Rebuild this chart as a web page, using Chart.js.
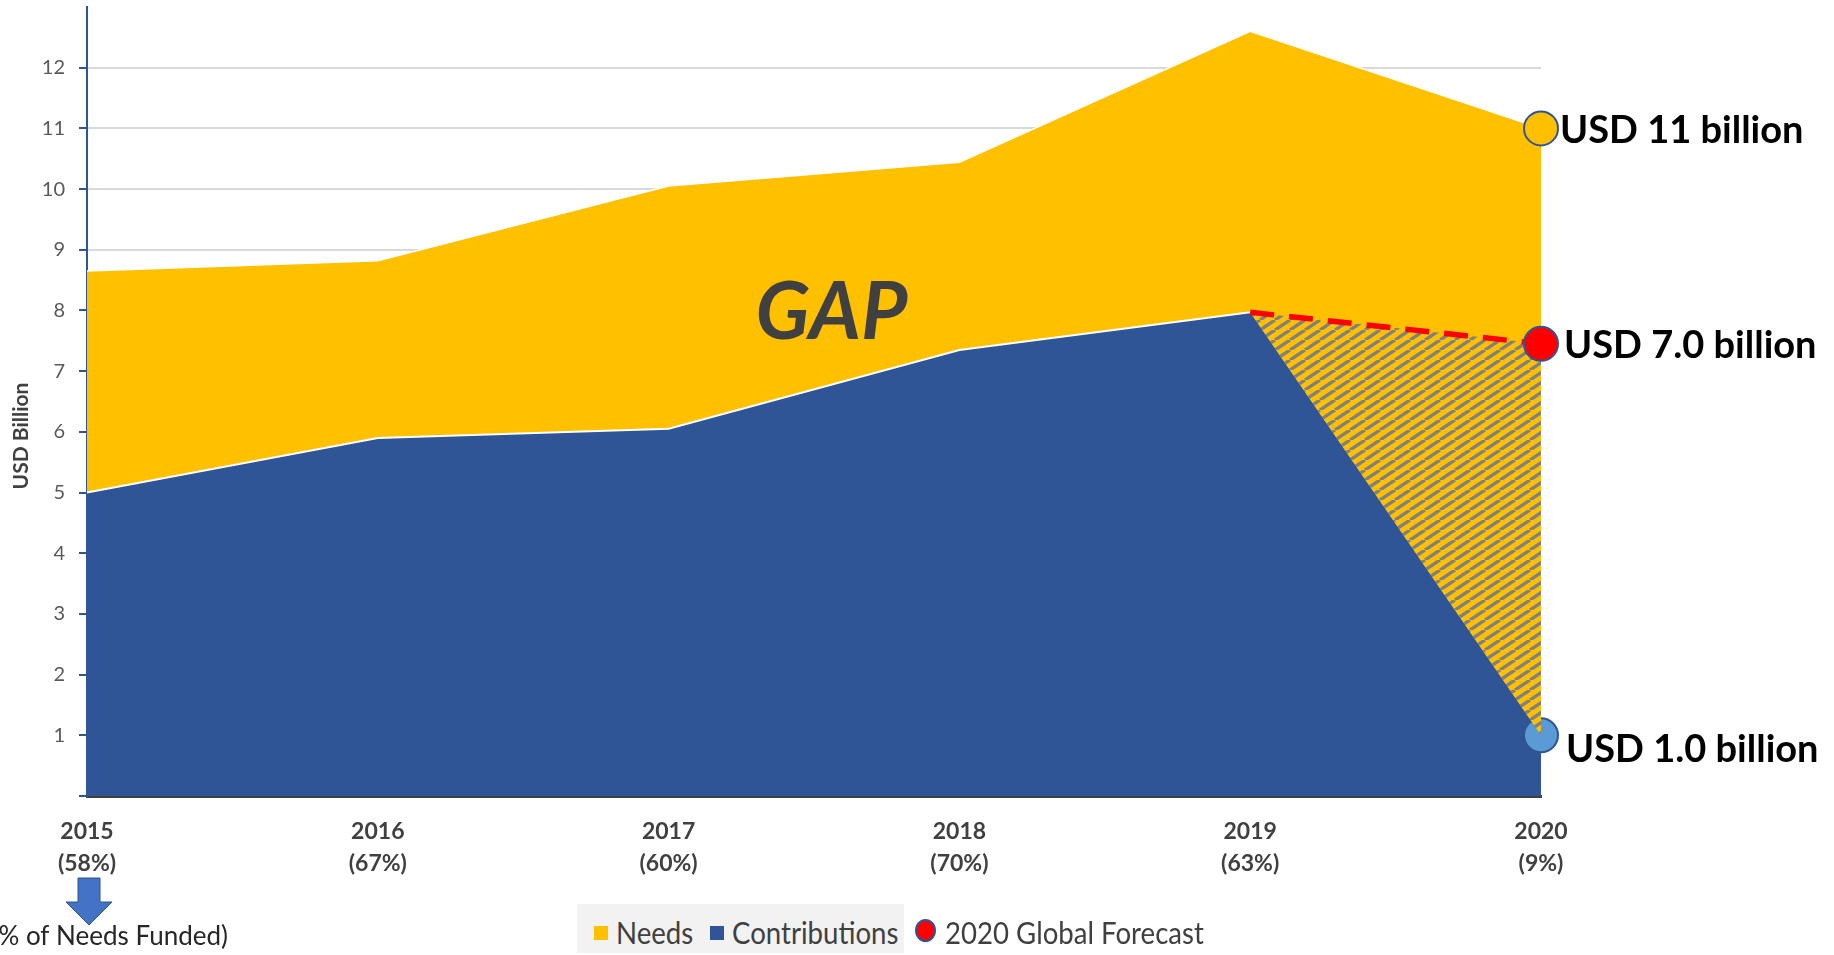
<!DOCTYPE html>
<html>
<head>
<meta charset="utf-8">
<script src="https://cdn.jsdelivr.net/npm/chart.js@4.4.1/dist/chart.umd.min.js"></script>
<style>
  html, body { margin: 0; padding: 0; background: #fff; }
  #wrap { position: relative; width: 1834px; height: 955px; }
  #legendBox { position: absolute; left: 577px; top: 904px; width: 327px; height: 49px; background: #F2F2F2; }
  .lg { position: absolute; font-family: Lato, sans-serif; font-size: 30px; color: #404040;
        transform: scaleX(0.92); transform-origin: left center; white-space: nowrap; line-height: 34px; top: 915px; }
  .sq { position: absolute; width: 14px; height: 14px; top: 926px; }
  .dot { position: absolute; width: 17px; height: 19px; border-radius: 50%; background: #FF0000;
         border: 2px solid #2F5597; top: 919px; }
</style>
</head>
<body>
<div id="wrap">
  <canvas id="chart" width="1834" height="955"></canvas>
  <div id="legendBox"></div>
  <div class="sq" style="left:594px;background:#FFC000"></div>
  <div class="lg" style="left:616px">Needs</div>
  <div class="sq" style="left:710px;background:#2F5597"></div>
  <div class="lg" style="left:732px">Contributions</div>
  <div class="dot" style="left:915px"></div>
  <div class="lg" style="left:945px">2020 Global Forecast</div>
</div>
<script>
const years = ['2015', '2016', '2017', '2018', '2019', '2020'];
const fundedPct = ['(58%)', '(67%)', '(60%)', '(70%)', '(63%)', '(9%)'];
const needs = [8.65, 8.82, 10.05, 10.44, 12.6, 11.0];
const contributions = [5.0, 5.9, 6.05, 7.35, 7.97, 1.0];
const forecast = [null, null, null, null, 7.97, 7.45];
const endLabels = ['USD 11 billion', 'USD 7.0 billion', 'USD 1.0 billion'];

const last = years.length - 1;

// stripes for the forecast gap
function makeHatch() {
    const w = 15, h = 10;
    const c = document.createElement('canvas');
    c.width = w; c.height = h;
    const g = c.getContext('2d');
    g.fillStyle = '#FFC000';
    g.fillRect(0, 0, w, h);
    g.strokeStyle = '#808080';
    g.lineWidth = 3.4;
    g.beginPath();
    for (const dx of [-w, 0, w]) {
        g.moveTo(dx, h); g.lineTo(dx + w, 0);
    }
    g.stroke();
    return g.createPattern(c, 'repeat');
}

const lastOnly = r => years.map((y, i) => i === last ? r : 0);

const extras = {
    id: 'extras',
    afterDraw(chart) {
        const ctx = chart.ctx;
        const x = chart.scales.x, y = chart.scales.y;
        ctx.save();

        ctx.fillStyle = '#404040';
        ctx.font = 'italic bold 80px Lato';
        ctx.textAlign = 'center';
        ctx.textBaseline = 'middle';
        ctx.fillText('GAP', x.getPixelForValue(2.56), y.getPixelForValue(7.95));

        ctx.fillStyle = '#000';
        ctx.font = 'bold 38px Lato';
        ctx.textAlign = 'left';
        const lx = x.getPixelForValue(last) + 19;
        ctx.fillText(endLabels[0], lx, y.getPixelForValue(needs[last]) + 2);
        ctx.fillText(endLabels[1], lx + 4, y.getPixelForValue(forecast[last]) + 2);
        ctx.fillText(endLabels[2], lx + 6, y.getPixelForValue(contributions[last]) + 14);

        // axis title
        ctx.save();
        ctx.translate(21, 436);
        ctx.rotate(-Math.PI / 2);
        ctx.fillStyle = '#404040';
        ctx.font = 'bold 21px Lato';
        ctx.textAlign = 'center';
        ctx.fillText('USD Billion', 0, 0);
        ctx.restore();

        // arrow under the first year
        const ax = x.getPixelForValue(0) + 2;
        ctx.beginPath();
        ctx.moveTo(ax - 11, 878); ctx.lineTo(ax + 11, 878); ctx.lineTo(ax + 11, 902);
        ctx.lineTo(ax + 23, 902); ctx.lineTo(ax, 925); ctx.lineTo(ax - 23, 902);
        ctx.lineTo(ax - 11, 902); ctx.closePath();
        ctx.fillStyle = '#4472C4';
        ctx.fill();
        ctx.strokeStyle = '#2F528F';
        ctx.lineWidth = 1;
        ctx.stroke();

        ctx.fillStyle = '#262626';
        ctx.font = '26px Lato';
        ctx.textAlign = 'right';
        ctx.fillText('(% of Needs Funded)', 228, 937);
        ctx.restore();
    }
};

new Chart(document.getElementById('chart'), {
    type: 'line',
    data: {
        labels: years.map((yr, i) => [yr, fundedPct[i]]),
        datasets: [{
            label: '2020 Global Forecast',
            data: forecast,
            borderColor: '#FF0000',
            borderWidth: 5.5,
            borderDash: [24, 15],
            backgroundColor: makeHatch(),
            fill: 2,
            pointRadius: lastOnly(17),
            pointBackgroundColor: '#FF0000',
            pointBorderColor: '#2F5597',
            pointBorderWidth: 2,
            clip: false
        }, {
            // white edge on top of the contributions area, up to 2019
            label: 'edge',
            data: contributions.map((v, i) => i < last ? v : null),
            borderColor: '#FFFFFF',
            borderWidth: 2,
            fill: false,
            pointRadius: 0
        }, {
            label: 'Contributions',
            data: contributions,
            borderWidth: 0,
            borderColor: 'rgba(0,0,0,0)',
            backgroundColor: '#2F5597',
            fill: 'origin',
            pointRadius: lastOnly(17),
            pointBackgroundColor: '#5B9BD5',
            pointBorderColor: '#2F5597',
            pointBorderWidth: 2,
            clip: false
        }, {
            label: 'Needs',
            data: needs,
            borderColor: '#FFFFFF',
            borderWidth: 1.5,
            backgroundColor: '#FFC000',
            fill: 'origin',
            pointRadius: lastOnly(17),
            pointBackgroundColor: '#FFC000',
            pointBorderColor: '#2F5597',
            pointBorderWidth: 2,
            clip: false
        }]
    },
    options: {
        responsive: false,
        animation: false,
        layout: { autoPadding: false, padding: { top: 7, right: 293, left: 0, bottom: 0 } },
        plugins: { legend: { display: false }, tooltip: { enabled: false } },
        elements: { line: { tension: 0 } },
        scales: {
            x: {
                offset: false,
                grid: { display: false, drawTicks: false },
                border: { display: true, color: '#404040', width: 3 },
                ticks: {
                    font: { family: 'Lato', size: 23, weight: 'bold', lineHeight: 1.39 },
                    color: '#404040',
                    padding: 20,
                    maxRotation: 0,
                    autoSkip: false
                },
                afterFit: s => { s.height = 159; s.paddingLeft = 0; s.paddingRight = 0; }
            },
            y: {
                min: 0,
                max: 13,
                ticks: {
                    stepSize: 1,
                    font: { family: 'Lato', size: 20 },
                    color: '#595959',
                    padding: 14,
                    callback: v => (v === 0 || v === 13) ? '' : v
                },
                grid: {
                    color: c => c.tick && c.tick.value === 13 ? 'rgba(0,0,0,0)' : '#D9D9D9',
                    tickColor: c => c.tick && c.tick.value === 13 ? 'rgba(0,0,0,0)' : '#2F5597',
                    lineWidth: 2,
                    tickLength: 8
                },
                border: { color: '#2F5597', width: 2 },
                afterFit: s => { s.width = 87; s.paddingTop = 0; s.paddingBottom = 0; }
            }
        }
    },
    plugins: [extras]
});
</script>
</body>
</html>
